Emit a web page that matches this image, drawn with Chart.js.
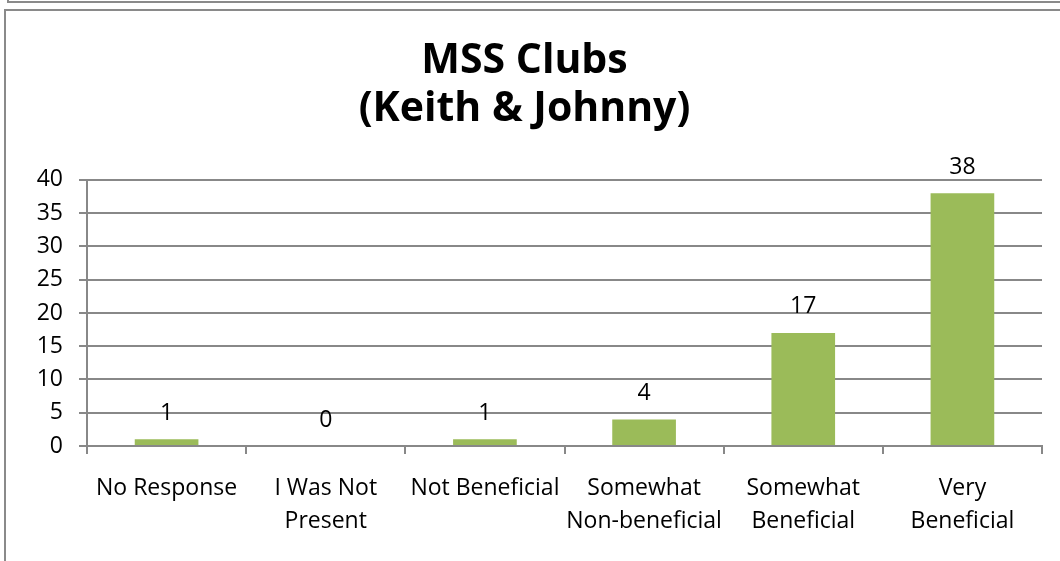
<!DOCTYPE html>
<html>
<head>
<meta charset="utf-8">
<script src="https://cdn.jsdelivr.net/npm/chart.js@4"></script>
<style>
  html, body { margin: 0; padding: 0; background: #fff; overflow: hidden; width: 1060px; height: 561px; }
  #frameTop { position: absolute; left: 7px; top: 0; width: 1100px; height: 3px; border-left: 2px solid #8a8a8a; border-bottom: 2px solid #8a8a8a; box-sizing: border-box; }
  #frame { position: absolute; left: 4px; top: 9px; width: 1100px; height: 600px; border-left: 2px solid #8a8a8a; border-top: 2px solid #8a8a8a; box-sizing: border-box; }
  #wrap { position: absolute; left: 7px; top: 12px; width: 1064px; height: 549px; }
</style>
</head>
<body>
<div id="frameTop"></div>
<div id="frame"></div>
<div id="wrap"><canvas id="c" width="1064" height="549"></canvas></div>
<script>
const categories = ["No Response", ["I Was Not", "Present"], "Not Beneficial", ["Somewhat", "Non-beneficial"], ["Somewhat", "Beneficial"], ["Very", "Beneficial"]];
const values = [1, 0, 1, 4, 17, 38];
const yTicks = [0, 5, 10, 15, 20, 25, 30, 35, 40];
const titleLines = ["MSS Clubs", "(Keith & Johnny)"];

const FONT = "'Open Sans', sans-serif";

const valueLabels = {
  id: 'valueLabels',
  afterDatasetsDraw(chart) {
    const ctx = chart.ctx;
    const meta = chart.getDatasetMeta(0);
    ctx.save();
    ctx.font = "23px " + FONT;
    ctx.fillStyle = "#000";
    ctx.textAlign = "center";
    ctx.textBaseline = "middle";
    meta.data.forEach((bar, i) => {
      ctx.fillText(String(values[i]), bar.x, bar.y - 26);
    });
    ctx.restore();
  }
};

new Chart(document.getElementById('c'), {
  type: 'bar',
  data: {
    labels: categories,
    datasets: [{
      data: values,
      backgroundColor: '#9BBB59',
      borderWidth: 0,
      categoryPercentage: 1.0,
      barPercentage: 0.4
    }]
  },
  options: {
    responsive: false,
    animation: false,
    layout: { padding: { left: 0, right: 29, top: 0, bottom: 0 } },
    plugins: {
      legend: { display: false },
      tooltip: { enabled: false },
      title: {
        display: true,
        text: titleLines,
        color: '#000',
        font: { family: FONT, size: 41, weight: 'bold', lineHeight: 1.17 },
        padding: { top: 25, bottom: 47 }
      }
    },
    scales: {
      x: {
        grid: { display: true, drawOnChartArea: false, drawTicks: true, tickLength: 8, color: '#888', lineWidth: 2, offset: true },
        border: { display: true, color: '#888', width: 2 },
        ticks: { color: '#000', font: { family: FONT, size: 23, lineHeight: 1.42 }, padding: 18, maxRotation: 0, autoSkip: false },
        afterFit(scale) { scale.height = 115; }
      },
      y: {
        min: 0, max: 40,
        afterBuildTicks(scale) { scale.ticks = yTicks.map(v => ({ value: v })); },
        grid: { color: '#888', lineWidth: 2, tickLength: 8 },
        border: { display: true, color: '#888', width: 2 },
        ticks: { color: '#000', font: { family: FONT, size: 23 }, padding: 16 },
        afterFit(scale) { scale.width = 80; }
      }
    }
  },
  plugins: [valueLabels]
});
</script>
</body>
</html>
